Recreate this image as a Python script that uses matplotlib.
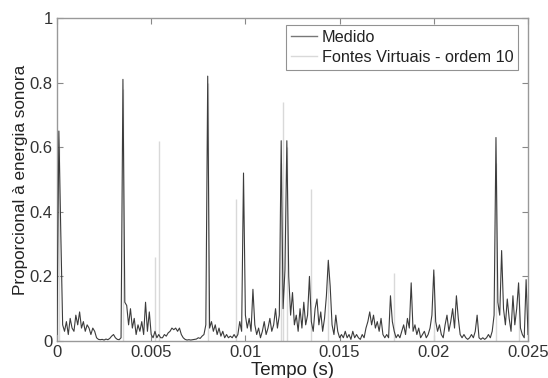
import numpy as np
import matplotlib
matplotlib.use("Agg")
import matplotlib.pyplot as plt

plt.rcParams['font.family'] = ['Liberation Sans', 'DejaVu Sans']

# Medido: sampled every 0.1 ms from 0 to 25 ms
medido = [
    0.02, 0.65, 0.34, 0.05, 0.03, 0.06, 0.02, 0.07, 0.04, 0.03,   # 0.0-0.9 ms
    0.08, 0.05, 0.09, 0.04, 0.06, 0.03, 0.05, 0.04, 0.02, 0.04,   # 1.0-1.9
    0.03, 0.01, 0.005, 0.004, 0.005, 0.003, 0.006, 0.004, 0.008, 0.015,  # 2.0-2.9
    0.02, 0.01, 0.005, 0.004, 0.01, 0.81, 0.12, 0.11, 0.05, 0.10,  # 3.0-3.9
    0.04, 0.07, 0.02, 0.05, 0.03, 0.06, 0.02, 0.12, 0.03, 0.09,   # 4.0-4.9
    0.02, 0.01, 0.03, 0.01, 0.02, 0.01, 0.01, 0.02, 0.015, 0.025, # 5.0-5.9
    0.03, 0.04, 0.035, 0.04, 0.03, 0.04, 0.02, 0.01, 0.005, 0.003, # 6.0-6.9
    0.004, 0.003, 0.004, 0.005, 0.006, 0.01, 0.008, 0.015, 0.02, 0.05, # 7.0-7.9
    0.82, 0.04, 0.06, 0.03, 0.05, 0.02, 0.04, 0.015, 0.03, 0.01,  # 8.0-8.9
    0.02, 0.01, 0.015, 0.01, 0.02, 0.01, 0.02, 0.06, 0.03, 0.52,  # 9.0-9.9
    0.08, 0.04, 0.07, 0.03, 0.16, 0.05, 0.02, 0.04, 0.01, 0.03,   # 10.0-10.9
    0.06, 0.02, 0.04, 0.07, 0.03, 0.05, 0.10, 0.04, 0.08, 0.62,   # 11.0-11.9
    0.10, 0.22, 0.62, 0.20, 0.08, 0.15, 0.05, 0.08, 0.03, 0.10,   # 12.0-12.9
    0.04, 0.12, 0.05, 0.08, 0.20, 0.06, 0.03, 0.10, 0.13, 0.05,   # 13.0-13.9
    0.09, 0.03, 0.07, 0.14, 0.25, 0.17, 0.05, 0.02, 0.08, 0.03,   # 14.0-14.9
    0.01, 0.02, 0.01, 0.03, 0.01, 0.02, 0.005, 0.03, 0.01, 0.02,  # 15.0-15.9
    0.01, 0.005, 0.02, 0.01, 0.04, 0.06, 0.09, 0.05, 0.08, 0.04,  # 16.0-16.9
    0.06, 0.03, 0.07, 0.02, 0.01, 0.02, 0.01, 0.14, 0.06, 0.03,   # 17.0-17.9
    0.01, 0.02, 0.01, 0.03, 0.05, 0.02, 0.07, 0.04, 0.18, 0.03,   # 18.0-18.9
    0.05, 0.02, 0.04, 0.01, 0.02, 0.03, 0.01, 0.02, 0.04, 0.08,   # 19.0-19.9
    0.22, 0.06, 0.03, 0.05, 0.02, 0.01, 0.05, 0.08, 0.03, 0.06,   # 20.0-20.9
    0.10, 0.04, 0.14, 0.07, 0.02, 0.01, 0.02, 0.01, 0.005, 0.01,  # 21.0-21.9
    0.02, 0.01, 0.03, 0.08, 0.01, 0.005, 0.01, 0.005, 0.01, 0.02, # 22.0-22.9
    0.01, 0.03, 0.08, 0.63, 0.12, 0.08, 0.28, 0.10, 0.05, 0.13,   # 23.0-23.9
    0.07, 0.03, 0.14, 0.05, 0.10, 0.18, 0.04, 0.02, 0.01, 0.19,   # 24.0-24.9
    0.02,                                                          # 25.0
]
dt = 0.0001
tempo = np.arange(len(medido)) * dt

# Fontes Virtuais - ordem 10 (impulsive arrivals)
fontes_t = [0.0001, 0.0035, 0.0052, 0.0054, 0.0080, 0.0095, 0.0119, 0.0120,
            0.0122, 0.0135, 0.0144, 0.0179, 0.0200, 0.0233, 0.0245]
fontes_v = [0.60, 0.78, 0.26, 0.62, 0.80, 0.44, 0.55, 0.74,
            0.60, 0.47, 0.22, 0.21, 0.20, 0.55, 0.15]

xticks = [0, 0.005, 0.01, 0.015, 0.02, 0.025]
xticklabels = ['0', '0.005', '0.01', '0.015', '0.02', '0.025']
yticks = [0, 0.2, 0.4, 0.6, 0.8, 1]
yticklabels = ['0', '0.2', '0.4', '0.6', '0.8', '1']

fig = plt.figure(figsize=(5.48, 3.78), dpi=100)
ax = fig.add_axes([0.104, 0.0979, 0.8595, 0.8545])

c_med = '#3c3c3c'
c_fv = '#d9d9d9'
ax.vlines(fontes_t, 0, fontes_v, color=c_fv, linewidth=1.0, zorder=2)
ax.plot(tempo, medido, color=c_med, linewidth=0.8, zorder=3)

# legend proxies
h1, = ax.plot([], [], color='#777777', linewidth=1.0, label='Medido')
h2, = ax.plot([], [], color=c_fv, linewidth=1.0, label='Fontes Virtuais - ordem 10')

ax.set_xlim(0, 0.025)
ax.set_ylim(0, 1)
ax.set_xticks(xticks)
ax.set_xticklabels(xticklabels)
ax.set_yticks(yticks)
ax.set_yticklabels(yticklabels)
ax.tick_params(direction='in', top=True, right=True, length=4, width=0.8,
               color='#888888', labelsize=12, labelcolor='#333333', pad=3)
for s in ax.spines.values():
    s.set_color('#999999')
    s.set_linewidth(1.0)

ax.set_xlabel('Tempo (s)', fontsize=13.5, color='#222222', labelpad=1.5)
ax.set_ylabel('Proporcional à energia sonora', fontsize=12.3, color='#222222', labelpad=1)

leg = ax.legend(handles=[h1, h2], loc='upper right', fontsize=11.7, frameon=True,
                fancybox=False, edgecolor='#777777', handlelength=1.6,
                handletextpad=0.3, borderpad=0.3, labelspacing=0.3,
                bbox_to_anchor=(0.979, 0.978), borderaxespad=0)
leg.get_frame().set_linewidth(0.8)
for t in leg.get_texts():
    t.set_color('#222222')

fig.savefig('out.png', dpi=100)
